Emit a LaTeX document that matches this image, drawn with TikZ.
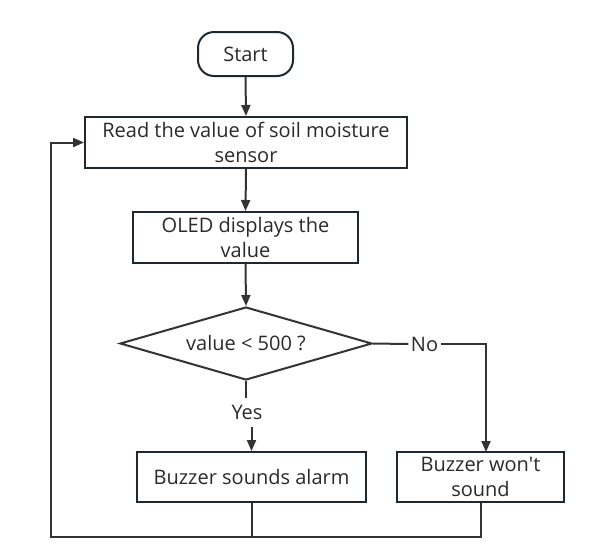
\documentclass[tikz,border=0pt]{standalone}
\usepackage{fontspec}
\setmainfont{Open Sans}
\usetikzlibrary{shapes.geometric,arrows.meta}
\definecolor{lc}{HTML}{333333}
\definecolor{bc}{HTML}{1E2830}
\definecolor{tc}{HTML}{2A2A2A}
\begin{document}
\begin{tikzpicture}[x=1pt,y=-1pt,
  every node/.style={text=tc,font=\fontsize{20}{25}\selectfont},
  box/.style={draw=bc,line width=2pt,rectangle,inner sep=0pt,align=center},
  arr/.style={draw=lc,line width=2pt,-{Triangle[length=11pt,width=9pt]}},
  ln/.style={draw=lc,line width=2pt},
  lbl/.style={inner sep=0pt}]
\useasboundingbox (0,0) rectangle (602,555);
\node[box,rounded corners=16pt,minimum width=95pt,minimum height=44pt] (start) at (245.5,54) {Start};
\node[box,minimum width=322pt,minimum height=51pt] (b1) at (246,142.5) {Read the value of soil moisture\\sensor};
\node[box,minimum width=225pt,minimum height=51pt] (b2) at (245.5,237.5) {OLED displays the\\value};
\node[box,draw=lc,diamond,aspect=3.45,minimum width=252pt,minimum height=73pt] (dia) at (246,343.5) {value < 500 ?};
\node[box,minimum width=229pt,minimum height=50pt] (b3) at (251.5,477) {Buzzer sounds alarm};
\node[box,minimum width=167pt,minimum height=50pt] (b4) at (480.5,477) {Buzzer won\textquotesingle t\\sound};
\node[lbl,minimum width=30pt,minimum height=29pt] (yes) at (247,412.5) {Yes};
\node[lbl,minimum width=32pt,minimum height=20pt] (no) at (424.5,344) {No};
\coordinate (b4in) at (486,452);
\coordinate (corner) at (51,537);
\draw[arr] (start.south) -- (b1.north);
\draw[arr] (b1.south) -- (b2.north);
\draw[arr] (b2.south) -- (dia.north);
\draw[ln] (dia.south) -- (dia.south |- yes.north);
\draw[arr] (b3.north |- yes.south) -- (b3.north);
\draw[ln] (dia.east) -- (no.west);
\draw[arr] (no.east) -| (b4in);
\draw[ln] (b3.south) -- (b3.south |- corner);
\draw[arr] (b4.south) |- (corner) |- (b1.west);
\end{tikzpicture}
\end{document}
